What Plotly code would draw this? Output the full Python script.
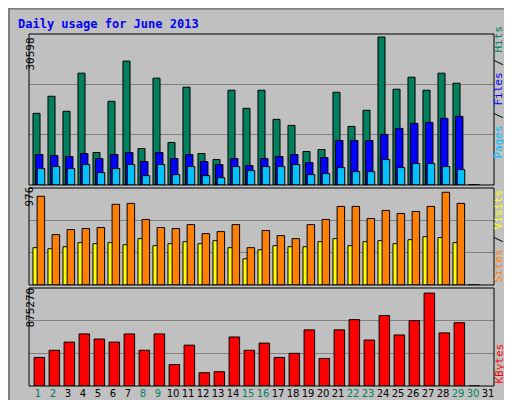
import plotly.graph_objects as go

days = list(range(1, 32))
hits = [14818, 18346, 15230, 23123, 6715, 17307, 25615, 7546, 22084, 8792,
        20215, 6508, 5261, 19592, 15854, 19592, 13569, 12323, 6923, 7338,
        19176, 12115, 15438, 30598, 19800, 22292, 19592, 23123, 21046, 0, None]
files = [6300, 6092, 5884, 6508, 5469, 6300, 6715, 4846, 6715, 5469,
         6300, 4846, 4223, 5469, 4015, 5469, 5884, 6300, 4638, 5677,
         9207, 9207, 9207, 10454, 11700, 12738, 12946, 13776, 14192, 0, None]
pages = [3392, 3808, 3392, 4223, 2561, 3392, 4223, 1938, 4223, 2146,
         3808, 1938, 1523, 3808, 2977, 3808, 3808, 4223, 2146, 2354,
         3600, 2769, 2769, 5261, 3600, 4430, 4430, 3808, 3184, 0, None]
visits = [934, 530, 583, 594, 605, 849, 859, 690, 605, 594,
          636, 541, 562, 636, 393, 573, 520, 488, 636, 690,
          827, 827, 700, 785, 753, 774, 827, 976, 859, 0, None]
sites = [393, 382, 403, 446, 435, 446, 424, 488, 414, 435,
         456, 435, 467, 393, 276, 371, 414, 403, 403, 456,
         488, 414, 456, 467, 435, 477, 509, 499, 446, 0, None]
kbytes = [269304, 336630, 413574, 490518, 442428, 413574, 490518, 336630, 490518, 201978,
          384720, 125034, 134652, 461664, 336630, 403956, 269304, 307776, 528990, 259686,
          528990, 625170, 432810, 663642, 480900, 615552, 875270, 500136, 596316, 0, None]
weekend = [1, 2, 8, 9, 15, 16, 22, 23, 29, 30]

MONO = "DejaVu Sans Mono"
fig = go.Figure()

def bars(vals, off, w, color, ax):
    fig.add_trace(go.Bar(x=[d + off for d in days], y=vals, width=w,
                         marker=dict(color=color, line=dict(color="black", width=1)),
                         xaxis=ax[0], yaxis=ax[1], showlegend=False))

bars(hits, 0.0, 0.47, "#00805c", ("x", "y"))
bars(files, 0.18, 0.5, "#0000ff", ("x", "y"))
bars(pages, 0.3, 0.5, "#00c0ff", ("x", "y"))
bars(sites, -0.07, 0.33, "#ffff00", ("x2", "y2"))
bars(visits, 0.29, 0.5, "#ff8000", ("x2", "y2"))
bars(kbytes, 0.19, 0.7, "#ff0000", ("x3", "y3"))

xd = [21 / 512, 486 / 512]
ticktext = ['<span style="color:#00805c">%d</span>' % d if d in weekend else str(d) for d in days]
xcommon = dict(range=[0.5, 31.5], domain=xd, showgrid=False, zeroline=False,
               showline=False, fixedrange=True)
ranges = {"y": (31220, [0.5575, 0.935]), "y2": (1021, [0.3075, 0.55]),
          "y3": (923360, [0.055, 0.30])}
layout = dict(
    width=512, height=400, margin=dict(l=0, r=0, t=0, b=0),
    paper_bgcolor="#c0c0c0", plot_bgcolor="#c0c0c0", barmode="overlay",
    font=dict(family=MONO, size=11, color="black"),
    xaxis=dict(xcommon, anchor="y", showticklabels=False),
    xaxis2=dict(xcommon, anchor="y2", showticklabels=False),
    xaxis3=dict(xcommon, anchor="y3", tickvals=[d + 0.1 for d in days], ticktext=ticktext,
                ticks="", tickangle=0, automargin=False,
                tickfont=dict(family="DejaVu Sans", size=10)),
)
for k, (r, dom) in ranges.items():
    name = "yaxis" if k == "y" else "yaxis" + k[1:]
    layout[name] = dict(range=[0, r], domain=dom, tickvals=[r / 3, 2 * r / 3],
                        showticklabels=False, gridcolor="#808080", gridwidth=1,
                        zeroline=False, fixedrange=True,
                        anchor="x" if k == "y" else "x" + k[1:])
fig.update_layout(**layout)

shapes = []
for k, (r, dom) in ranges.items():
    shapes.append(dict(type="rect", xref="paper", yref="paper", x0=xd[0], x1=xd[1],
                       y0=dom[0], y1=dom[1], line=dict(color="black", width=1)))
shapes.append(dict(type="rect", xref="paper", yref="paper", x0=0.002, x1=0.998,
                   y0=0.002, y1=0.998, line=dict(color="#808080", width=2)))
fig.update_layout(shapes=shapes)

ann = [
    dict(text="<b>Daily usage for June 2013</b>", x=8 / 512, y=1 - 16 / 400,
         xanchor="left", font=dict(color="#0000ff", size=12)),
    dict(text="30598", x=13 / 512, y=1 - 46 / 400, textangle=-90),
    dict(text="976", x=13 / 512, y=1 - 189 / 400, textangle=-90),
    dict(text="875270", x=13 / 512, y=1 - 300 / 400, textangle=-90),
    dict(text='<span style="color:#00c0ff">Pages</span> / <span style="color:#0000ff">Files</span>'
              ' / <span style="color:#00805c">Hits</span>',
         x=499 / 512, y=1 - 84 / 400, textangle=-90),
    dict(text='<span style="color:#ff8000">Sites</span> / <span style="color:#ffff00">Visits</span>',
         x=499 / 512, y=1 - 228 / 400, textangle=-90),
    dict(text='<span style="color:#ff0000">KBytes</span>', x=499 / 512, y=1 - 356 / 400,
         textangle=-90),
]
for a in ann:
    a.update(xref="paper", yref="paper", showarrow=False, yanchor="middle")
fig.update_layout(annotations=ann)

fig.write_html("out.html")
